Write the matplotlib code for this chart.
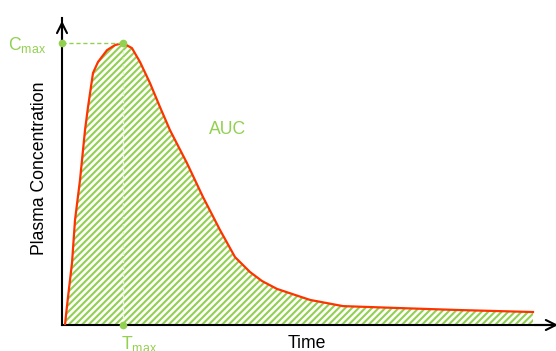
import matplotlib.pyplot as plt

plt.rcParams["font.family"] = ["Liberation Sans", "DejaVu Sans"]
plt.rcParams["mathtext.fontset"] = "custom"
plt.rcParams["mathtext.rm"] = "Liberation Sans"
plt.rcParams["hatch.linewidth"] = 1.5

# concentration-time profile (time in h, conc. in arbitrary units)
time = [0.06, 0.08, 0.12, 0.20, 0.26, 0.36, 0.46, 0.52, 0.62, 0.72, 0.90, 1.06,
        1.22, 1.40, 1.56, 1.76, 1.96, 2.16, 2.50, 2.82, 3.16, 3.46, 3.76, 4.00,
        4.30, 4.96, 5.62, 6.76, 7.96, 9.42]
conc = [0.0, 0.35, 0.99, 2.20, 3.72, 5.14, 6.91, 7.73, 8.94, 9.33, 9.75, 9.93,
        10.0, 9.82, 9.33, 8.58, 7.73, 6.91, 5.74, 4.54, 3.37, 2.41, 1.88, 1.56,
        1.28, 0.89, 0.67, 0.60, 0.53, 0.46]
t_max = 1.22
c_max = 10.0

green = "#92d050"
red = "#ff3300"

W, H = 556, 351
fig = plt.figure(figsize=(W / 100, H / 100), dpi=100)
ax = fig.add_axes([62 / W, (H - 325) / H, (W - 62) / W, (325 - 18) / H])
ax.set_xlim(0, 9.88)
ax.set_ylim(0, 10.89)

# AUC hatched area
ax.fill_between(time, conc, 0, facecolor="white", edgecolor=green, hatch="/////",
                linewidth=0, zorder=1)
ax.plot(time, conc, color=red, lw=1.6, zorder=3)

# Cmax / Tmax guides
ax.plot([0, t_max], [c_max, c_max], color=green, ls="--", lw=1, dashes=(3, 2), zorder=4)
ax.plot([t_max, t_max], [0, c_max], color="#e4f3d6", ls="--", lw=1, dashes=(3, 2), zorder=4)
ax.plot([0, t_max, t_max], [c_max, c_max, 0], "o", color=green, ms=5.5, mec="none",
        clip_on=False, zorder=5)

for s in ["top", "right"]:
    ax.spines[s].set_visible(False)
for s in ["left", "bottom"]:
    ax.spines[s].set_linewidth(1.5)
ax.set_xticks([])
ax.set_yticks([])

# axis arrows
ax.annotate("", xy=(0, 1.0), xytext=(0, 0.9), xycoords="axes fraction",
            arrowprops=dict(arrowstyle="->", lw=1.5, color="black", mutation_scale=18),
            annotation_clip=False)
ax.annotate("", xy=(1.01, 0), xytext=(0.95, 0), xycoords="axes fraction",
            arrowprops=dict(arrowstyle="->", lw=1.5, color="black", mutation_scale=18),
            annotation_clip=False)

# labels
fig.text(40 / W, 1 - 168 / H, "Plasma Concentration", rotation=90, fontsize=12.7,
         ha="center", va="center")
fig.text(307 / W, 1 - 343 / H, "Time", fontsize=12.7, ha="center", va="center")
fig.text(46 / W, 1 - 45 / H, r"C$_{\mathrm{max}}$", fontsize=12.7, color=green,
         ha="right", va="center")
fig.text(121 / W, 1 - 344 / H, r"T$_{\mathrm{max}}$", fontsize=12.7, color=green,
         ha="left", va="center")
fig.text(228 / W, 1 - 130 / H, "AUC", fontsize=12.7, color=green, ha="center", va="center")

fig.savefig("out.png", dpi=100)
